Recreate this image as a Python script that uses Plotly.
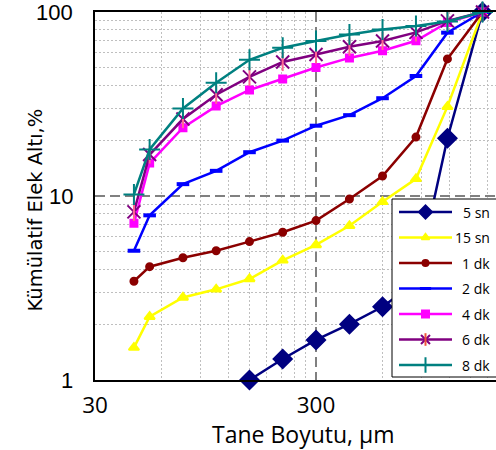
import math
import plotly.graph_objects as go

# ---------------- data ----------------
sizes = [45, 53, 75, 106, 150, 212, 300, 425, 600, 850, 1180, 1700]
names = ["5 sn", "15 sn", "1 dk", "2 dk", "4 dk", "6 dk", "8 dk"]
s5 = [None, None, None, None, 1.0, 1.30, 1.65, 2.01, 2.50, 3.4, 20.6, 100]
s15 = [1.50, 2.21, 2.81, 3.11, 3.54, 4.47, 5.42, 6.89, 9.30, 12.4, 30.6, 100]
d1 = [3.44, 4.13, 4.62, 5.04, 5.65, 6.35, 7.35, 9.63, 12.85, 20.9, 55.6, 100]
d2 = [5.04, 7.85, 11.6, 13.7, 17.3, 20.0, 24.1, 27.5, 34.0, 44.9, 77.2, 100]
d4 = [7.1, 15.1, 23.5, 30.8, 37.7, 43.2, 49.9, 56.3, 61.6, 69.8, 87.7, 100]
d6 = [8.2, 16.8, 26.2, 35.5, 44.4, 53.5, 58.8, 64.8, 69.6, 77.5, 89.5, 100]
d8 = [10.2, 17.9, 29.9, 41.3, 55.0, 63.9, 69.6, 75.4, 80.3, 83.9, 88.9, 100]
series = [s5, s15, d1, d2, d4, d6, d8]

x_ticks = [30, 300]
y_ticks = [1, 10, 100]
x_minor = [60, 90, 120, 150, 180, 210, 240, 270, 600, 900, 1200, 1500, 1800]
y_minor = [2, 3, 4, 5, 6, 7, 8, 9, 20, 30, 40, 50, 60, 70, 80, 90]

# ---------------- styles ----------------
colors = ["#000080", "#FFFF00", "#8B0000", "#0000FF", "#FF00FF", "#800080", "#008080"]
symbols = ["diamond", "triangle-up", "circle", "line-ew", "square", "x-thin-open", "cross-thin-open"]
msizes = [14, 9, 7, 9, 7, 13, 15]
lsizes = [10, 7, 6, 8, 7, 9, 11]

W, H = 496, 450
L, R, T, B = 95, 0, 12, 70
PW, PH = W - L - R, H - T - B

x0 = math.log10(30)
x1 = x0 + PW / 221.0
y0, y1 = 0.0, 2.0
eps = 1e-4

fig = go.Figure()

for i, (nm, ys) in enumerate(zip(names, series)):
    mk = dict(symbol=symbols[i], size=msizes[i], color=colors[i],
              line=dict(color=colors[i], width=2))
    if symbols[i] == "line-ew":
        mk["line"] = dict(color=colors[i], width=4)
    fig.add_trace(go.Scatter(x=sizes, y=ys, name=nm, mode="lines+markers",
                             line=dict(color=colors[i], width=2.5),
                             marker=mk, cliponaxis=False, showlegend=False,
                             connectgaps=False))
    if symbols[i] == "x-thin-open":
        fig.add_trace(go.Scatter(x=sizes, y=ys, mode="markers",
                                 marker=dict(symbol="line-ns-open", size=msizes[i],
                                             line=dict(color=colors[i], width=2)),
                                 cliponaxis=False, showlegend=False))

# ---------------- custom legend on overlay axes (pixel coordinates) ----------------
box_l, box_t, box_r, box_b = 392, 199, 520, 377
fig.add_trace(go.Scatter(x=[box_l, box_l, box_r, box_r, box_l],
                         y=[box_b, box_t, box_t, box_b, box_b],
                         fill="toself", fillcolor="white", mode="lines",
                         line=dict(color="black", width=1),
                         xaxis="x2", yaxis="y2", showlegend=False, hoverinfo="skip"))
row0, row_step = 212, 25.5
for i, nm in enumerate(names):
    ry = row0 + i * row_step
    fig.add_trace(go.Scatter(x=[399, 452], y=[ry, ry], mode="lines",
                             line=dict(color=colors[i], width=2.5),
                             xaxis="x2", yaxis="y2", showlegend=False, hoverinfo="skip"))
    mk = dict(symbol=symbols[i], size=lsizes[i], color=colors[i],
              line=dict(color=colors[i], width=2))
    if symbols[i] == "line-ew":
        mk["line"] = dict(color=colors[i], width=3)
    fig.add_trace(go.Scatter(x=[425.5], y=[ry], mode="markers", marker=mk,
                             xaxis="x2", yaxis="y2", showlegend=False, hoverinfo="skip"))
    if symbols[i] == "x-thin-open":
        fig.add_trace(go.Scatter(x=[425.5], y=[ry], mode="markers",
                                 marker=dict(symbol="line-ns-open", size=lsizes[i],
                                             line=dict(color=colors[i], width=2)),
                                 xaxis="x2", yaxis="y2", showlegend=False, hoverinfo="skip"))
    fig.add_annotation(text=nm, x=(492 - L) / PW, y=(H - B - ry) / PH,
                       xref="paper", yref="paper", xanchor="right", yanchor="middle",
                       showarrow=False,
                       font=dict(family="Open Sans", size=14, color="black"))

# ---------------- y tick labels (as annotations, so the top one is not dropped) ----------------
for v in y_ticks:
    fig.add_annotation(text=str(v), x=(75 - L) / PW, y=(math.log10(v) - y0) / (y1 - y0),
                       xref="paper", yref="paper", xanchor="right", yanchor="middle",
                       showarrow=False,
                       font=dict(family="Liberation Sans", size=22, color="black"))

# ---------------- titles ----------------
fig.add_annotation(text="Tane Boyutu, µm", x=(303 - L) / PW, y=(H - B - 434) / PH,
                   xref="paper", yref="paper", xanchor="center", yanchor="middle",
                   showarrow=False, font=dict(family="Open Sans", size=23, color="black"))
fig.add_annotation(text="Kümülatif Elek Altı,%", x=(35 - L) / PW, y=(H - B - 210.5) / PH,
                   xref="paper", yref="paper", xanchor="center", yanchor="middle",
                   textangle=-90, showarrow=False,
                   font=dict(family="DejaVu Sans", size=19.5, color="black"))

fig.update_layout(
    width=W, height=H, autosize=False,
    margin=dict(l=L, r=R, t=T, b=B, pad=0),
    paper_bgcolor="white", plot_bgcolor="white",
    showlegend=False,
    xaxis=dict(type="log", range=[x0 - eps, x1], tickmode="array", tickvals=x_ticks,
               ticktext=[str(v) for v in x_ticks], ticks="",
               tickfont=dict(family="Open Sans", size=22.5, color="black"),
               ticklabelstandoff=4,
               showline=True, linecolor="black", linewidth=2, mirror=True,
               showgrid=True, gridcolor="#808080", gridwidth=2, griddash="10px,5px",
               minor=dict(tickmode="array", tickvals=x_minor, showgrid=True,
                          gridcolor="#BFBFBF", gridwidth=1, griddash="2px,2px", ticks=""),
               zeroline=False),
    yaxis=dict(type="log", range=[y0, y1], tickmode="array", tickvals=y_ticks,
               showticklabels=False, ticks="",
               showline=True, linecolor="black", linewidth=2, mirror=False,
               showgrid=True, gridcolor="#808080", gridwidth=2, griddash="10px,5px",
               minor=dict(tickmode="array", tickvals=y_minor, showgrid=True,
                          gridcolor="#BFBFBF", gridwidth=1, griddash="2px,2px", ticks=""),
               zeroline=False),
    xaxis2=dict(overlaying="x", anchor="y2", range=[L, W - R], visible=False,
                showgrid=False, zeroline=False, fixedrange=True),
    yaxis2=dict(overlaying="y", anchor="x2", range=[H - B, T], visible=False,
                showgrid=False, zeroline=False, fixedrange=True),
)

fig.write_html("out.html")
